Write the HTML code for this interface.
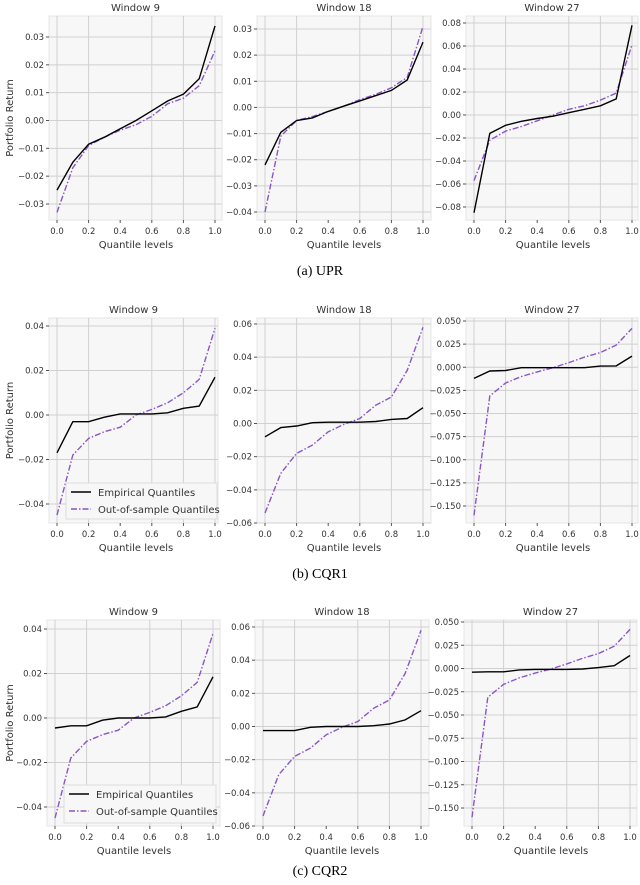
<!DOCTYPE html>
<html><head><meta charset="utf-8"><style>
body{margin:0;background:#fff;width:640px;height:885px;overflow:hidden}
svg{display:block}
text{font-family:"DejaVu Sans","Liberation Sans",sans-serif;fill:#333}
.cap{font-family:"Liberation Serif",serif;fill:#000;font-size:14px}
</style></head><body>
<svg id="fig" width="640" height="885" viewBox="0 0 640 885" xmlns="http://www.w3.org/2000/svg">
<text class="cap" x="320" y="275" text-anchor="middle">(a)  UPR</text>
<text class="cap" x="320" y="578" text-anchor="middle">(b)  CQR1</text>
<text class="cap" x="320" y="875" text-anchor="middle">(c)  CQR2</text>
</svg>
<script>
const quantiles=[0,0.1,0.2,0.3,0.4,0.5,0.6,0.7,0.8,0.9,1.0];
const xTicks=[0,0.2,0.4,0.6,0.8,1.0];
// Row a (UPR)
const upr9Emp=[-0.025,-0.015,-0.0085,-0.006,-0.003,0,0.0035,0.007,0.0095,0.015,0.034];
const upr9Oos=[-0.033,-0.017,-0.009,-0.006,-0.0035,-0.0015,0.0015,0.006,0.008,0.0125,0.025];
const upr18Emp=[-0.022,-0.0095,-0.005,-0.004,-0.0015,0.0005,0.0025,0.0045,0.0065,0.0105,0.025];
const upr18Oos=[-0.040,-0.011,-0.005,-0.0035,-0.0015,0.0005,0.003,0.005,0.0075,0.0115,0.031];
const upr27Emp=[-0.085,-0.016,-0.009,-0.0055,-0.003,-0.001,0.002,0.005,0.008,0.014,0.078];
const upr27Oos=[-0.057,-0.022,-0.014,-0.010,-0.005,0,0.005,0.008,0.013,0.019,0.061];
// Row b (CQR1)
const cqr1w9Emp=[-0.017,-0.003,-0.003,-0.001,0.0005,0.0005,0.0005,0.001,0.003,0.004,0.017];
const cqr1w9Oos=[-0.045,-0.018,-0.0105,-0.0075,-0.0055,0,0.0025,0.0055,0.010,0.016,0.039];
const cqr1w18Emp=[-0.008,-0.0025,-0.0015,0.0005,0.0008,0.0008,0.0008,0.0012,0.0025,0.003,0.0095];
const cqr1w18Oos=[-0.054,-0.030,-0.018,-0.013,-0.005,-0.0005,0.003,0.011,0.016,0.032,0.058];
const cqr1w27Emp=[-0.012,-0.004,-0.0035,-0.0005,-0.0005,-0.0005,-0.0005,-0.0005,0.0012,0.0015,0.012];
const cqr1w27Oos=[-0.160,-0.031,-0.017,-0.010,-0.005,-0.0005,0.005,0.011,0.016,0.024,0.042];
// Row c (CQR2)
const cqr2w9Emp=[-0.0045,-0.0035,-0.0035,-0.001,0,0,0,0.0005,0.003,0.005,0.0185];
const cqr2w9Oos=[-0.045,-0.018,-0.0105,-0.0075,-0.0055,0,0.0025,0.0055,0.010,0.016,0.038];
const cqr2w18Emp=[-0.0025,-0.0025,-0.0025,-0.0005,0,0,0,0.0005,0.0015,0.004,0.0095];
const cqr2w18Oos=[-0.054,-0.029,-0.018,-0.013,-0.005,-0.0005,0.003,0.011,0.016,0.032,0.058];
const cqr2w27Emp=[-0.004,-0.0035,-0.0035,-0.0015,-0.001,-0.001,-0.001,-0.0005,0.001,0.003,0.014];
const cqr2w27Oos=[-0.160,-0.031,-0.017,-0.010,-0.005,-0.0005,0.005,0.011,0.016,0.024,0.042];
// y tick labels
const yt1=[-0.03,-0.02,-0.01,0,0.01,0.02,0.03];
const yt2=[-0.04,-0.03,-0.02,-0.01,0,0.01,0.02,0.03];
const yt3=[-0.08,-0.06,-0.04,-0.02,0,0.02,0.04,0.06,0.08];
const yt4=[-0.04,-0.02,0,0.02,0.04];
const yt5=[-0.06,-0.04,-0.02,0,0.02,0.04,0.06];
const yt6=[-0.15,-0.125,-0.1,-0.075,-0.05,-0.025,0,0.025,0.05];

const NS="http://www.w3.org/2000/svg";
const svg=document.getElementById('fig');
function mk(tag,attrs,parent){const e=document.createElementNS(NS,tag);for(const k in attrs)e.setAttribute(k,attrs[k]);(parent||svg).appendChild(e);return e;}
function fmt(v,dec){let s=Math.abs(v).toFixed(dec);return (v<0?'\u2212':'')+s;}

const panels=[
 {id:'upr-w9',t:'Window 9',L:49,R:222,T:16,B:220,x0:57,x1:215,ya:0.03,yap:37,yb:-0.03,ybp:204,ticks:yt1,dec:2,emp:upr9Emp,oos:upr9Oos,ylab:true},
 {id:'upr-w18',t:'Window 18',L:257,R:431,T:16,B:220,x0:265,x1:423,ya:0.03,yap:29,yb:-0.04,ybp:212,ticks:yt2,dec:2,emp:upr18Emp,oos:upr18Oos},
 {id:'upr-w27',t:'Window 27',L:466,R:638,T:16,B:220,x0:474,x1:632,ya:0.08,yap:23,yb:-0.08,ybp:207,ticks:yt3,dec:2,emp:upr27Emp,oos:upr27Oos},
 {id:'cqr1-w9',t:'Window 9',L:49,R:218,T:318,B:523,x0:57,x1:215,ya:0.04,yap:326,yb:-0.04,ybp:504,ticks:yt4,dec:2,emp:cqr1w9Emp,oos:cqr1w9Oos,ylab:true,leg:[66,483,217,519]},
 {id:'cqr1-w18',t:'Window 18',L:257,R:431,T:318,B:523,x0:265,x1:423,ya:0.06,yap:324,yb:-0.06,ybp:523,ticks:yt5,dec:2,emp:cqr1w18Emp,oos:cqr1w18Oos},
 {id:'cqr1-w27',t:'Window 27',L:466,R:638,T:318,B:523,x0:474,x1:632,ya:0.05,yap:321,yb:-0.15,ybp:506,ticks:yt6,dec:3,emp:cqr1w27Emp,oos:cqr1w27Oos},
 {id:'cqr2-w9',t:'Window 9',L:47,R:220,T:620,B:826,x0:55,x1:213,ya:0.04,yap:629,yb:-0.04,ybp:807,ticks:yt4,dec:2,emp:cqr2w9Emp,oos:cqr2w9Oos,ylab:true,leg:[64,785,216,823]},
 {id:'cqr2-w18',t:'Window 18',L:255,R:429,T:620,B:826,x0:263,x1:421,ya:0.06,yap:627,yb:-0.06,ybp:826,ticks:yt5,dec:2,emp:cqr2w18Emp,oos:cqr2w18Oos},
 {id:'cqr2-w27',t:'Window 27',L:464,R:637,T:620,B:826,x0:472,x1:630,ya:0.05,yap:622,yb:-0.15,ybp:808,ticks:yt6,dec:3,emp:cqr2w27Emp,oos:cqr2w27Oos}
];
const vgrid=[0,0.2,0.6,0.8,1.0];

panels.forEach(p=>{
 const g=mk('g',{});
 
 
 const X=v=>p.x0+(v-0)*(p.x1-p.x0);
 const Y=v=>p.ybp+(v-p.yb)*(p.yap-p.ybp)/(p.ya-p.yb);
 const bg=mk('rect',{x:p.L,y:p.T,width:p.R-p.L,height:p.B-p.T,fill:'#f7f7f7',stroke:'#e4e4e4'},g);
 
 
 vgrid.forEach(v=>{mk('line',{x1:X(v),x2:X(v),y1:p.T,y2:p.B,stroke:'#d0d0d0','stroke-width':1},g);});
 p.ticks.forEach(v=>{const y=Y(v);mk('line',{x1:p.L,x2:p.R,y1:y,y2:y,stroke:'#d0d0d0','stroke-width':1},g);});
 const tt=mk('text',{x:(p.L+p.R)/2,y:p.T-5,'text-anchor':'middle','font-size':10,fill:'#222'},g);
 tt.textContent=p.t;
 
 
 p.ticks.forEach(v=>{const y=Y(v);
  mk('line',{x1:p.L-3,x2:p.L,y1:y,y2:y,stroke:'#555'},g);
  const t=mk('text',{x:p.L-5,y:y+3,'text-anchor':'end','font-size':8.5},g);t.textContent=fmt(v,p.dec);
  
  
 });
 xTicks.forEach(v=>{const x=X(v);
  mk('line',{x1:x,x2:x,y1:p.B,y2:p.B+3,stroke:'#555'},g);
  const t=mk('text',{x:x,y:p.B+14,'text-anchor':'middle','font-size':8.5},g);t.textContent=v.toFixed(1);
  
  
 });
 const xl=mk('text',{x:(p.x0+p.x1)/2,y:p.B+28,'text-anchor':'middle','font-size':10},g);
 xl.textContent='Quantile levels';
 
 
 if(p.ylab){const cy=(p.T+p.B)/2;
  const yl=mk('text',{x:13,y:cy,'text-anchor':'middle','font-size':10,transform:'rotate(-90 13 '+cy+')'},g);
  yl.textContent='Portfolio Return';
  
  
 }
 const d1=quantiles.map((q,i)=>(i?'L':'M')+X(q).toFixed(1)+' '+Y(p.emp[i]).toFixed(1)).join(' ');
 const d2=quantiles.map((q,i)=>(i?'L':'M')+X(q).toFixed(1)+' '+Y(p.oos[i]).toFixed(1)).join(' ');
 const l2=mk('path',{d:d2,fill:'none',stroke:'#8a55c8','stroke-width':1.4,'stroke-dasharray':'6 2 1.5 2'},g);
 
 
 const l1=mk('path',{d:d1,fill:'none',stroke:'#000','stroke-width':1.4},g);
 
 
 if(p.leg){const [a,b,c,d]=p.leg;
  const lg=mk('g',{},g);
  
  
  mk('rect',{x:a,y:b,width:c-a,height:d-b,fill:'#f7f7f7',stroke:'#ddd'},lg);
  mk('line',{x1:a+5,x2:a+25,y1:b+9,y2:b+9,stroke:'#000','stroke-width':1.4},lg);
  const e1=mk('text',{x:a+32,y:b+13,'font-size':10,fill:'#111'},lg);e1.textContent='Empirical Quantiles';
  
  
  mk('line',{x1:a+5,x2:a+25,y1:b+26,y2:b+26,stroke:'#8a55c8','stroke-width':1.4,'stroke-dasharray':'6 2 1.5 2'},lg);
  const e2=mk('text',{x:a+32,y:b+30,'font-size':10,fill:'#111'},lg);e2.textContent='Out-of-sample Quantiles';
  
  
 }
});
</script>
</body></html>
